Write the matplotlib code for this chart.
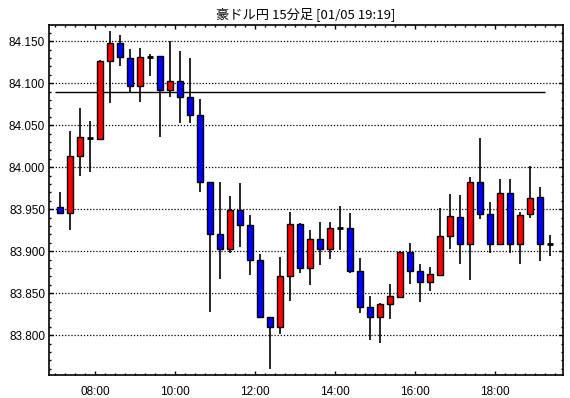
import pandas as pd
import matplotlib
matplotlib.use("Agg")
import matplotlib.pyplot as plt
from matplotlib.ticker import MultipleLocator, FuncFormatter

plt.rcParams["font.family"] = ["Liberation Sans", "DejaVu Sans"]

# 15-minute candles, AUD/JPY, 07:00 - 19:15
opens = [83.953, 83.945, 84.013, 84.035, 84.034, 84.127, 84.148, 84.130, 84.097, 84.131,
         84.132, 84.092, 84.103, 84.083, 84.062, 83.982, 83.921, 83.903, 83.949, 83.931,
         83.889, 83.822, 83.810, 83.870, 83.932, 83.880, 83.915, 83.902, 83.928, 83.928,
         83.876, 83.834, 83.822, 83.837, 83.845, 83.899, 83.876, 83.863, 83.872, 83.918,
         83.941, 83.909, 83.982, 83.944, 83.909, 83.969, 83.909, 83.944, 83.964, 83.909]
closes = [83.945, 84.013, 84.036, 84.035, 84.127, 84.148, 84.131, 84.097, 84.131, 84.131,
          84.092, 84.103, 84.083, 84.062, 83.982, 83.921, 83.903, 83.949, 83.931, 83.889,
          83.822, 83.810, 83.870, 83.932, 83.880, 83.915, 83.903, 83.927, 83.928, 83.876,
          83.834, 83.822, 83.837, 83.846, 83.899, 83.876, 83.863, 83.873, 83.918, 83.942,
          83.909, 83.982, 83.944, 83.909, 83.969, 83.909, 83.943, 83.963, 83.908, 83.909]
highs = [83.970, 84.043, 84.071, 84.055, 84.128, 84.162, 84.157, 84.141, 84.142, 84.135,
         84.132, 84.150, 84.138, 84.130, 84.081, 83.982, 83.982, 83.966, 83.981, 83.943,
         83.897, 83.822, 83.893, 83.947, 83.933, 83.925, 83.935, 83.935, 83.954, 83.946,
         83.892, 83.847, 83.838, 83.861, 83.900, 83.910, 83.885, 83.881, 83.951, 83.968,
         83.967, 83.988, 84.035, 83.959, 83.986, 83.986, 83.947, 84.001, 83.976, 83.919]
lows = [83.944, 83.925, 83.989, 83.994, 84.034, 84.077, 84.121, 84.090, 84.078, 84.108,
        84.036, 84.083, 84.052, 84.053, 83.970, 83.827, 83.867, 83.898, 83.905, 83.872,
        83.821, 83.760, 83.801, 83.841, 83.874, 83.860, 83.884, 83.891, 83.901, 83.874,
        83.826, 83.794, 83.791, 83.819, 83.845, 83.861, 83.839, 83.853, 83.872, 83.903,
        83.885, 83.866, 83.938, 83.898, 83.908, 83.898, 83.885, 83.939, 83.888, 83.894]
ref_price = 84.0894

times = pd.date_range("2015-01-05 07:00", periods=len(opens), freq="15min")
df = pd.DataFrame({"open": opens, "high": highs, "low": lows, "close": closes}, index=times)
df["start"] = df.index.hour + df.index.minute / 60
df["x"] = df["start"] + 0.125

fig = plt.figure(figsize=(5.7, 3.98), dpi=100)
ax = fig.add_axes([0.0865, 0.059, 0.9007, 0.878])

w = 0.15
for _, r in df.iterrows():
    ax.vlines(r["x"], r["low"], r["high"], color="black", lw=1.2, zorder=2)
    if abs(r["close"] - r["open"]) < 0.0005:
        ax.hlines(r["open"], r["x"] - w / 2, r["x"] + w / 2, color="black", lw=2, zorder=3)
        continue
    color = "#ff0000" if r["close"] > r["open"] else "#0000ff"
    lo = min(r["open"], r["close"])
    ax.bar(r["x"], abs(r["close"] - r["open"]), bottom=lo, width=w,
           color=color, edgecolor="black", lw=1, zorder=3)

# reference level line, from first to last candle start
ax.hlines(ref_price, df["start"].iloc[0], df["start"].iloc[-1],
          color="black", lw=1, zorder=1)

ax.set_xlim(6.85, 19.685)
ax.set_ylim(83.7531, 84.1692)

ax.xaxis.set_major_locator(MultipleLocator(2))
ax.xaxis.set_minor_locator(MultipleLocator(0.25))
ax.xaxis.set_major_formatter(FuncFormatter(lambda v, p: f"{int(round(v)):02d}:00"))
ax.yaxis.set_major_locator(MultipleLocator(0.05))
ax.yaxis.set_minor_locator(MultipleLocator(0.01))
ax.yaxis.set_major_formatter(FuncFormatter(lambda v, p: f"{v:.3f}"))

ax.tick_params(which="both", direction="in", top=True, right=True, colors="black",
               labelsize=8.5)
ax.tick_params(which="major", length=3.2, width=1)
ax.tick_params(which="minor", length=1.6, width=1)
ax.tick_params(axis="x", pad=8)
ax.tick_params(axis="y", pad=3)

ax.grid(True, axis="y", which="major", color="black", linestyle=(0, (1, 1.5)), lw=0.9)
for s in ax.spines.values():
    s.set_linewidth(1.2)

ax.set_title("豪ドル円 15分足 [01/05 19:19]", fontsize=9.5, pad=5,
             family=["Noto Sans CJK JP", "DejaVu Sans"])

fig.savefig("out.png", dpi=100)
